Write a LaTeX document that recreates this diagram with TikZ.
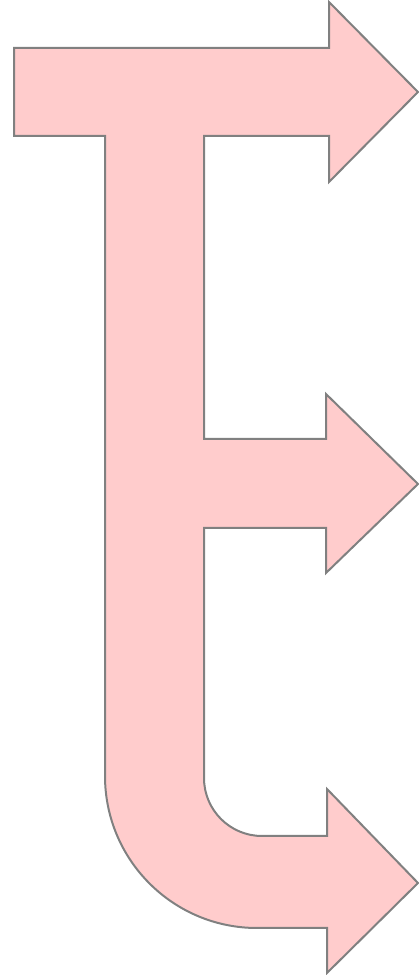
\documentclass[tikz,border=0pt]{standalone}
\usetikzlibrary{calc}
\definecolor{cpink}{HTML}{FFCCCC}
\definecolor{cgrey}{HTML}{808080}
\tikzset{
  every picture/.style={x=1pt, y=1pt},
  forkarrow/.style={draw=cgrey, fill=cpink, line width=2pt, line join=miter},
}
\begin{document}
\begin{tikzpicture}
  \useasboundingbox (0,0) rectangle (418,975);
  % one shape: stem with three branches
  \draw[forkarrow]
    (14,927) -- (329,927) -- (329,973) -- (418,883) -- (329,793) -- (329,839) -- (204,839) % top branch
    -- (204,536) -- (326,536) -- (326,581) -- (418,491) -- (326,402) -- (326,447) -- (204,447) % middle branch
    -- (204,197) arc[start angle=180, end angle=270, radius=58] -- (327,139) -- (327,186)
    -- (418,92) -- (327,2) -- (327,47) -- (257,47) % bottom branch
    arc[start angle=270, end angle=180, radius=152] -- (105,839) -- (14,839) -- cycle;
\end{tikzpicture}
\end{document}
